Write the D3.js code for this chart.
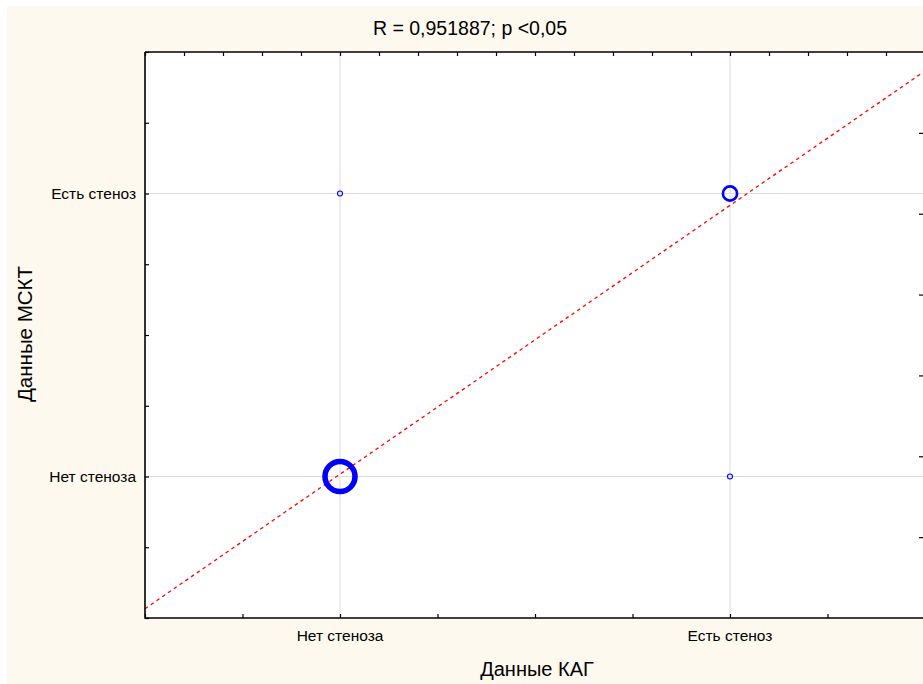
<!DOCTYPE html>
<html>
<head>
<meta charset="utf-8">
<script src="https://cdn.jsdelivr.net/npm/d3@7"></script>
<style>
  html, body { margin: 0; padding: 0; background: #ffffff; }
  svg { display: block; }
  text { font-family: "Liberation Sans", Arial, sans-serif; fill: #000; }
</style>
</head>
<body>
<svg id="chart" width="923" height="684"></svg>
<script>
// Categories of both variables (0 = no stenosis, 1 = stenosis)
const categories = ["Нет стеноза", "Есть стеноз"];
// Observed pairs: KAG value, MSCT value, number of cases
const kagValues  = [0, 0, 1, 1];
const msctValues = [0, 1, 0, 1];
const caseCounts = [36, 1, 1, 8];
// Fitted regression line MSCT = a + b * KAG
const fitIntercept = 0.008;
const fitSlope = 0.95;
const titleText = "R = 0,951887; p <0,05";
const xTitle = "Данные КАГ";
const yTitle = "Данные МСКТ";

const svg = d3.select("#chart");
const W = 923, H = 684;
const plot = { left: 145, top: 52, right: 925, bottom: 618 };

// panel background
svg.append("rect").attr("x", 7).attr("y", 6).attr("width", W).attr("height", H)
  .attr("fill", "#fdf9ee");
svg.append("rect").attr("x", plot.left).attr("y", plot.top)
  .attr("width", plot.right - plot.left).attr("height", plot.bottom - plot.top)
  .attr("fill", "#ffffff");

const x = d3.scaleLinear().domain([-0.5, 1.5]).range([plot.left, plot.right]);
const y = d3.scaleLinear().domain([-0.5, 1.5]).range([plot.bottom, plot.top]);
const yRight = d3.scaleLinear().domain([0, 7]).range([plot.bottom, plot.top]);
const r = d3.scaleSqrt().domain([0, 36]).range([0, 15]);

const minorTicks = d3.range(-0.5, 1.5001, 0.25);
const topTicks = d3.range(-0.5, 1.5001, 0.1);

// grid lines at the category positions
const g = svg.append("g");
g.selectAll("line.gx").data([0, 1]).join("line")
  .attr("x1", d => x(d)).attr("x2", d => x(d))
  .attr("y1", plot.top).attr("y2", plot.bottom)
  .attr("stroke", "#dcdcdc").attr("stroke-width", 1);
g.selectAll("line.gy").data([0, 1]).join("line")
  .attr("y1", d => y(d)).attr("y2", d => y(d))
  .attr("x1", plot.left).attr("x2", plot.right)
  .attr("stroke", "#dcdcdc").attr("stroke-width", 1);

// regression line
const [x0, x1] = x.domain();
svg.append("line")
  .attr("x1", x(x0)).attr("y1", y(fitIntercept + fitSlope * x0))
  .attr("x2", x(x1)).attr("y2", y(fitIntercept + fitSlope * x1))
  .attr("stroke", "#ff0000").attr("stroke-width", 1.3)
  .attr("stroke-dasharray", "3.5,3.5");

// frequency-scaled points
const pts = kagValues.map((k, i) => ({ k, m: msctValues[i], n: caseCounts[i] }));
svg.selectAll("circle.pt").data(pts).join("circle")
  .attr("cx", d => x(d.k)).attr("cy", d => y(d.m))
  .attr("r", d => Math.max(2.5, r(d.n)))
  .attr("fill", "none").attr("stroke", "#0000ff")
  .attr("stroke-width", d => Math.max(1.1, r(d.n) * 0.37));

// axes (ticks drawn inward)
const tickStyle = sel => {
  sel.select(".domain").remove();
  sel.selectAll(".tick line").attr("stroke", "#000").attr("stroke-width", 1.2);
};
svg.append("g").attr("transform", `translate(0,${plot.bottom})`)
  .call(d3.axisTop(x).tickValues(minorTicks).tickSize(4).tickFormat(""))
  .call(tickStyle);
svg.append("g").attr("transform", `translate(0,${plot.top})`)
  .call(d3.axisBottom(x).tickValues(topTicks).tickSize(4).tickFormat(""))
  .call(tickStyle);
svg.append("g").attr("transform", `translate(${plot.left},0)`)
  .call(d3.axisRight(y).tickValues(minorTicks).tickSize(4).tickFormat(""))
  .call(tickStyle);
svg.append("g").attr("transform", `translate(${plot.right - 2},0)`)
  .call(d3.axisLeft(yRight).tickValues(d3.range(1, 7)).tickSize(4).tickFormat(""))
  .call(tickStyle);

// frame
svg.append("path")
  .attr("d", `M${plot.left},${plot.top}H${plot.right}M${plot.left},${plot.top}V${plot.bottom}H${plot.right}`)
  .attr("fill", "none").attr("stroke", "#000").attr("stroke-width", 1.6);

// category labels
svg.selectAll("text.xl").data([0, 1]).join("text")
  .attr("x", d => x(d)).attr("y", plot.bottom + 23)
  .attr("text-anchor", "middle").attr("font-size", 15.5)
  .text(d => categories[d]);
svg.selectAll("text.yl").data([0, 1]).join("text")
  .attr("x", plot.left - 9).attr("y", d => y(d) + 5)
  .attr("text-anchor", "end").attr("font-size", 15.5)
  .text(d => categories[d]);

// titles
svg.append("text").attr("x", 470).attr("y", 35)
  .attr("text-anchor", "middle").attr("font-size", 19.5).text(titleText);
svg.append("text").attr("x", 537).attr("y", 676)
  .attr("text-anchor", "middle").attr("font-size", 20).text(xTitle);
svg.append("text").attr("transform", "translate(32,334) rotate(-90)")
  .attr("text-anchor", "middle").attr("font-size", 20.5).text(yTitle);
</script>
</body>
</html>
